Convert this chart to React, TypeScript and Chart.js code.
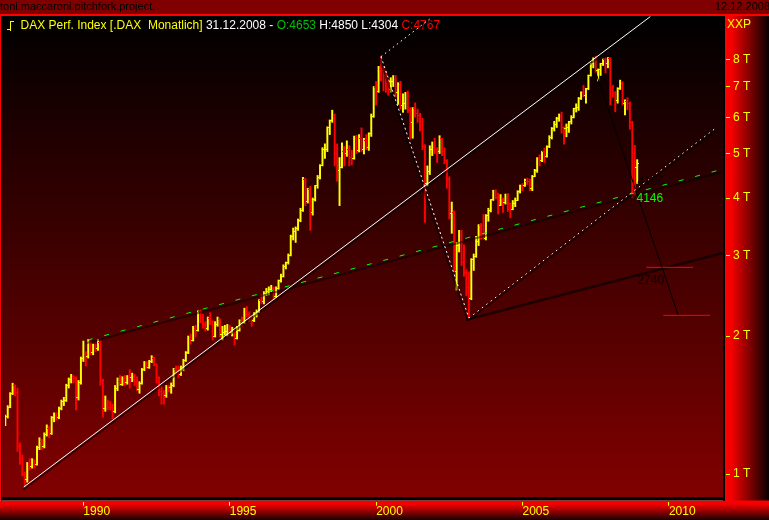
import React, { useEffect, useRef } from "react";
import { Chart, registerables } from "chart.js";

Chart.register(...registerables);

// Month index counted from January 1987 (0 = Jan 1987). First bar: May 1987.
const FIRST_MONTH = 4;

// Monthly OHLC of the DAX, May 1987 .. Dec 2008 (one row per year)
const opens = [
  1290, 1335, 1400, 1500, 1560, 1505, 1150, 1080,
  1000, 975, 1050, 1040, 1065, 1050, 1140, 1180, 1150, 1220, 1260, 1225,
  1328, 1340, 1330, 1390, 1440, 1450, 1560, 1610, 1630, 1615, 1470, 1580,
  1790, 1810, 1800, 1930, 1840, 1890, 1880, 1940, 1600, 1390, 1440, 1400,
  1398, 1370, 1540, 1590, 1570, 1620, 1580, 1630, 1620, 1630, 1590, 1530,
  1578, 1690, 1730, 1710, 1760, 1790, 1730, 1620, 1510, 1500, 1480, 1550,
  1545, 1560, 1690, 1680, 1650, 1690, 1770, 1840, 1990, 1960, 2080, 2060,
  2267, 2200, 2120, 2080, 2180, 2150, 2000, 2120, 2170, 2020, 2040, 2050,
  2107, 2040, 2050, 1980, 2060, 2150, 2140, 2270, 2230, 2170, 2160, 2230,
  2254, 2390, 2380, 2480, 2500, 2530, 2540, 2440, 2540, 2640, 2700, 2840,
  2889, 3000, 3300, 3380, 3440, 3570, 3760, 4380, 3930, 4170, 3710, 3970,
  4250, 4440, 4710, 5100, 5110, 5690, 5900, 5950, 5000, 4600, 4670, 5050,
  5002, 5100, 4910, 4880, 5390, 5080, 5380, 5100, 5350, 5150, 5520, 6030,
  6958, 6840, 7640, 7600, 7410, 7110, 6900, 7190, 7270, 6800, 7080, 6370,
  6434, 6790, 6210, 5830, 6260, 6120, 6060, 5860, 5190, 4310, 4560, 5100,
  5160, 5110, 5040, 5400, 5040, 4820, 4380, 3700, 3710, 2770, 3150, 3320,
  2893, 2750, 2550, 2420, 2940, 2980, 3220, 3490, 3480, 3260, 3660, 3750,
  3965, 4060, 4020, 3860, 3985, 3920, 4050, 3900, 3785, 3890, 3960, 4130,
  4256, 4250, 4350, 4340, 4185, 4460, 4590, 4890, 4830, 5045, 4930, 5190,
  5408, 5670, 5800, 5970, 6010, 5690, 5680, 5700, 5860, 6000, 6270, 6310,
  6597, 6790, 6710, 6920, 7410, 7880, 8010, 7580, 7640, 7860, 8020, 7870,
  8067, 6850, 6750, 6530, 6950, 7100, 6420, 6480, 6420, 5830, 4990, 4653,
];
const highs = [
  1345, 1410, 1505, 1578, 1565, 1540, 1170, 1100,
  1010, 1060, 1080, 1080, 1075, 1150, 1200, 1190, 1230, 1280, 1270, 1335,
  1360, 1360, 1400, 1450, 1470, 1570, 1620, 1650, 1640, 1630, 1600, 1800,
  1950, 1850, 1966, 1950, 1920, 1920, 1966, 1950, 1610, 1480, 1450, 1440,
  1420, 1560, 1620, 1640, 1630, 1640, 1640, 1690, 1660, 1650, 1630, 1590,
  1700, 1760, 1760, 1770, 1812, 1800, 1740, 1630, 1560, 1520, 1560, 1560,
  1580, 1700, 1720, 1720, 1720, 1780, 1850, 2000, 2020, 2100, 2110, 2270,
  2280, 2230, 2150, 2200, 2250, 2160, 2150, 2200, 2180, 2100, 2110, 2120,
  2110, 2090, 2060, 2100, 2170, 2200, 2300, 2320, 2260, 2200, 2250, 2280,
  2400, 2460, 2500, 2540, 2560, 2580, 2560, 2560, 2650, 2730, 2860, 2900,
  3020, 3320, 3440, 3460, 3600, 3800, 4438, 4420, 4200, 4240, 4000, 4260,
  4480, 4730, 5150, 5250, 5720, 5920, 6217, 6100, 5250, 4900, 5280, 5180,
  5330, 5200, 5080, 5460, 5480, 5500, 5690, 5400, 5500, 5550, 6100, 7000,
  7180, 7750, 8136, 7750, 7560, 7250, 7320, 7400, 7400, 7140, 7190, 6750,
  6800, 6850, 6300, 6300, 6450, 6250, 6120, 5970, 5230, 4700, 5200, 5300,
  5400, 5150, 5470, 5400, 5150, 4850, 4450, 3920, 3750, 3200, 3400, 3400,
  3160, 2790, 2760, 2950, 3020, 3300, 3500, 3520, 3680, 3680, 3800, 3970,
  4160, 4170, 4100, 4070, 4000, 4080, 4090, 3900, 3950, 4000, 4150, 4270,
  4300, 4400, 4420, 4400, 4480, 4620, 4900, 4970, 5060, 5140, 5200, 5470,
  5700, 5880, 6000, 6100, 6160, 5720, 5800, 5880, 6050, 6280, 6420, 6630,
  6820, 7040, 6940, 7420, 7880, 8090, 8151, 7650, 7870, 8040, 8080, 8100,
  8100, 7050, 6830, 6960, 7230, 7170, 6550, 6620, 6480, 5880, 5210, 4850,
];
const lows = [
  1275, 1325, 1395, 1490, 1480, 1120, 1050, 990,
  936, 960, 1020, 1030, 1030, 1045, 1130, 1130, 1140, 1210, 1200, 1220,
  1300, 1310, 1320, 1380, 1410, 1440, 1540, 1580, 1580, 1380, 1450, 1570,
  1760, 1720, 1790, 1820, 1820, 1850, 1860, 1560, 1330, 1370, 1380, 1380,
  1320, 1360, 1520, 1560, 1560, 1560, 1570, 1540, 1590, 1560, 1520, 1500,
  1570, 1680, 1700, 1700, 1750, 1720, 1580, 1480, 1420, 1420, 1470, 1510,
  1500, 1550, 1650, 1620, 1640, 1680, 1760, 1830, 1920, 1950, 1990, 2050,
  2140, 2080, 2050, 2060, 2120, 1960, 1990, 2100, 1990, 1960, 2010, 2000,
  2010, 2000, 1910, 1970, 2050, 2100, 2130, 2200, 2150, 2100, 2150, 2200,
  2250, 2350, 2350, 2450, 2460, 2500, 2400, 2430, 2530, 2620, 2690, 2800,
  2870, 2990, 3240, 3200, 3400, 3550, 3740, 3850, 3900, 3400, 3670, 3940,
  4200, 4400, 4700, 4880, 5050, 5500, 5850, 4700, 4350, 3850, 4650, 4700,
  4930, 4700, 4720, 4860, 5000, 5040, 5050, 4990, 5100, 5080, 5450, 6000,
  6380, 6800, 7200, 6850, 6800, 6700, 6800, 7000, 6650, 6400, 6250, 6150,
  6250, 6140, 5370, 5400, 6000, 5850, 5600, 5100, 3540, 4250, 4500, 4950,
  5000, 4780, 5000, 4950, 4750, 4200, 3600, 3350, 2770, 2519, 3050, 2850,
  2700, 2450, 2189, 2400, 2780, 2970, 3150, 3250, 3250, 3240, 3560, 3730,
  3950, 3980, 3690, 3850, 3720, 3880, 3740, 3620, 3770, 3830, 3950, 4100,
  4150, 4240, 4280, 4150, 4150, 4450, 4550, 4700, 4800, 4780, 4910, 5150,
  5380, 5600, 5700, 5880, 5540, 5240, 5440, 5560, 5800, 5980, 6160, 6210,
  6560, 6650, 6440, 6890, 7380, 7690, 7500, 7200, 7400, 7780, 7500, 7690,
  6384, 6640, 6167, 6440, 6900, 6380, 6070, 6230, 5650, 4014, 4060, 4304,
];
const closes = [
  1335, 1400, 1500, 1560, 1505, 1150, 1080, 1000,
  975, 1050, 1040, 1065, 1050, 1140, 1180, 1150, 1220, 1260, 1225, 1328,
  1340, 1330, 1390, 1440, 1450, 1560, 1610, 1630, 1615, 1470, 1580, 1790,
  1810, 1800, 1930, 1840, 1890, 1880, 1940, 1600, 1390, 1440, 1400, 1398,
  1370, 1540, 1590, 1570, 1620, 1580, 1630, 1620, 1630, 1590, 1530, 1578,
  1690, 1730, 1710, 1760, 1790, 1730, 1620, 1510, 1500, 1480, 1550, 1545,
  1560, 1690, 1680, 1650, 1690, 1770, 1840, 1990, 1960, 2080, 2060, 2267,
  2200, 2120, 2080, 2180, 2150, 2000, 2120, 2170, 2020, 2040, 2050, 2107,
  2040, 2050, 1980, 2060, 2150, 2140, 2270, 2230, 2170, 2160, 2230, 2254,
  2390, 2380, 2480, 2500, 2530, 2540, 2440, 2540, 2640, 2700, 2840, 2889,
  3000, 3300, 3380, 3440, 3570, 3760, 4380, 3930, 4170, 3710, 3970, 4250,
  4440, 4710, 5100, 5110, 5690, 5900, 5950, 5000, 4600, 4670, 5050, 5002,
  5100, 4910, 4880, 5390, 5080, 5380, 5100, 5350, 5150, 5520, 6030, 6958,
  6840, 7640, 7600, 7410, 7110, 6900, 7190, 7270, 6800, 7080, 6370, 6434,
  6790, 6210, 5830, 6260, 6120, 6060, 5860, 5190, 4310, 4560, 5100, 5160,
  5110, 5040, 5400, 5040, 4820, 4380, 3700, 3710, 2770, 3150, 3320, 2893,
  2750, 2550, 2420, 2940, 2980, 3220, 3490, 3480, 3260, 3660, 3750, 3965,
  4060, 4020, 3860, 3985, 3920, 4050, 3900, 3785, 3890, 3960, 4130, 4256,
  4250, 4350, 4340, 4185, 4460, 4590, 4890, 4830, 5045, 4930, 5190, 5408,
  5670, 5800, 5970, 6010, 5690, 5680, 5700, 5860, 6000, 6270, 6310, 6597,
  6790, 6710, 6920, 7410, 7880, 8010, 7580, 7640, 7860, 8020, 7870, 8067,
  6850, 6750, 6530, 6950, 7100, 6420, 6480, 6420, 5830, 4990, 4670, 4767,
];

// Axis ticks
const yTickValues = [1000, 2000, 3000, 4000, 5000, 6000, 7000, 8000];
const yTickLabels = ["1 T", "2 T", "3 T", "4 T", "5 T", "6 T", "7 T", "8 T"];
const xTickMonths = [36, 96, 156, 216, 276];
const xTickLabels = ["1990", "1995", "2000", "2005", "2010"];
const X_MIN = 3.88;
const X_MAX = 298.17;
const Y_MIN = 891;
const Y_MAX = 9978;

// Drawn lines: [month, value] end points
const upTrendLine = [[11.6, 937], [268.4, 9950]];
const greenDashLine = [[37.8, 1960], [298.2, 4627]];
const darkMedianLine = [[193, 2170], [298.2, 3034]];
const whiteDashLine = [[158, 8136], [194, 2189]];
const dottedFromPeak = [[158, 8136], [179, 9928]];
const dottedFromLow = [[194, 2189], [295.3, 5690]];
const blackDownLine = [[246, 7520], [279.8, 2222]];
const redLevel1 = [[266.7, 2824], [285.9, 2824]];
const redLevel2 = [[273.7, 2219], [292.9, 2219]];

// Annotation texts
const annotTexts = ["4196", "4146", "2740"];
const annotMonths = [263.1, 262.7, 263.1];
const annotValues = [4334, 3980, 2636];
const annotColors = ["#150000", "#00ff00", "#150000"];

const titleParts: [string, string][] = [
  ["DAX Perf. Index [.DAX  Monatlich]", "#ffff00"],
  [" 31.12.2008 - ", "#ffffff"],
  ["O:4653", "#00c000"],
  [" H:4850 L:4304 ", "#ffffff"],
  ["C:4767", "#ff0000"],
];

const YELLOW = "#ffff00";
const RED = "#ff0000";
const FONT = '"Liberation Sans", Arial, sans-serif';

function pts(p: number[][]) {
  return p.map(([x, y]) => ({ x, y }));
}

export default function App() {
  const ref = useRef<HTMLCanvasElement>(null);

  useEffect(() => {
    document.body.style.margin = "0";
    const canvas = ref.current!;

    const tickImg = (color: string, left: boolean) => {
      const c = document.createElement("canvas");
      c.width = 4;
      c.height = 1;
      const g = c.getContext("2d")!;
      g.fillStyle = color;
      g.fillRect(left ? 0 : 2, 0, 2, 1);
      return c;
    };
    const openUp = tickImg(YELLOW, true);
    const openDn = tickImg(RED, true);
    const closeUp = tickImg(YELLOW, false);
    const closeDn = tickImg(RED, false);

    const months = closes.map((_, i) => FIRST_MONTH + i);
    const isUp = closes.map((c, i) => c >= opens[i]);
    const barColors = isUp.map((u) => (u ? YELLOW : RED));

    const lineDs = (p: number[][], color: string, width: number, dash: number[], order = 0) => ({
      type: "line",
      data: pts(p),
      borderColor: color,
      borderWidth: width,
      borderDash: dash,
      pointRadius: 0,
      fill: false,
      tension: 0,
      clip: 0,
      order,
    });
    const shadowDs = (p: number[][]) => ({
      ...lineDs(p, "rgba(0,0,0,0.5)", 2, [], 1),
      shadow: true,
    });

    const bgPlugin = {
      id: "bg",
      beforeDraw(chart: any) {
        const { ctx, width, height, chartArea: a } = chart;
        ctx.save();
        ctx.fillStyle = "#800000";
        ctx.fillRect(0, 0, width, 14);
        ctx.fillStyle = "#ff0000";
        ctx.fillRect(0, 14, width, 2);
        const g = ctx.createLinearGradient(0, a.top, 0, a.bottom);
        g.addColorStop(0, "#000000");
        g.addColorStop(1, "#820000");
        ctx.fillStyle = g;
        ctx.fillRect(0, a.top, a.right, a.bottom - a.top);
        const gr = ctx.createLinearGradient(a.right + 2, 0, width, 0);
        gr.addColorStop(0, "#ff0000");
        gr.addColorStop(0.15, "#f20000");
        gr.addColorStop(1, "#080000");
        ctx.fillStyle = gr;
        ctx.fillRect(a.right, a.top, width - a.right, a.bottom + 4 - a.top);
        const gb = ctx.createLinearGradient(0, a.bottom + 3.5, 0, height);
        gb.addColorStop(0, "#ff0000");
        gb.addColorStop(0.2, "#f00000");
        gb.addColorStop(1, "#1a0000");
        ctx.fillStyle = gb;
        ctx.fillRect(0, a.bottom + 3.5, width, height - a.bottom - 3.5);
        ctx.fillStyle = "#000000";
        ctx.fillRect(1, a.top, 1, a.bottom - a.top + 3.5);
        ctx.fillRect(1, a.bottom, a.right + 1, 3.5);
        ctx.fillRect(a.right, a.top, 2, a.bottom - a.top + 3.5);
        ctx.fillStyle = "#ff0000";
        ctx.fillRect(0, a.top, 1, a.bottom - a.top + 3.5);
        ctx.font = `11px ${FONT}`;
        ctx.textBaseline = "middle";
        ctx.fillStyle = "#000000";
        ctx.textAlign = "left";
        ctx.fillText("toni.maccaroni.pitchfork.project.", 0, 7);
        ctx.textAlign = "right";
        ctx.fillText("12.12.2008", width + 1, 7);
        ctx.textAlign = "left";
        ctx.font = `12px ${FONT}`;
        ctx.fillStyle = YELLOW;
        ctx.fillText("XXP", 727, 25);
        ctx.restore();
      },
      beforeDatasetsDraw(chart: any) {
        const { ctx } = chart;
        ctx.save();
        ctx.strokeStyle = YELLOW;
        ctx.lineWidth = 1;
        ctx.beginPath();
        ctx.moveTo(10.5, 21);
        ctx.lineTo(10.5, 31);
        ctx.moveTo(7, 29.5);
        ctx.lineTo(10.5, 29.5);
        ctx.moveTo(10.5, 21.5);
        ctx.lineTo(14, 21.5);
        ctx.stroke();
        ctx.font = `12px ${FONT}`;
        ctx.textBaseline = "middle";
        ctx.textAlign = "left";
        let x = 20.5;
        for (const [t, c] of titleParts) {
          ctx.fillStyle = c;
          ctx.fillText(t, x, 26);
          x += ctx.measureText(t).width;
        }
        ctx.restore();
        ctx.imageSmoothingEnabled = false;
      },
      beforeDatasetDraw(chart: any, args: any) {
        const ds = chart.data.datasets[args.index];
        if (ds.shadow) {
          chart.ctx.save();
          chart.ctx.translate(-1, 3);
        }
      },
      afterDatasetDraw(chart: any, args: any) {
        const ds = chart.data.datasets[args.index];
        if (ds.shadow) chart.ctx.restore();
      },
      afterDatasetsDraw(chart: any) {
        const { ctx, scales } = chart;
        ctx.save();
        ctx.font = `12px ${FONT}`;
        ctx.textBaseline = "middle";
        ctx.textAlign = "left";
        annotTexts.forEach((t, i) => {
          ctx.fillStyle = annotColors[i];
          ctx.fillText(t, scales.x.getPixelForValue(annotMonths[i]), scales.y.getPixelForValue(annotValues[i]));
        });
        ctx.restore();
      },
    };

    const chart = new Chart(canvas, {
      type: "bar",
      data: {
        datasets: [
          {
            type: "bar",
            data: months.map((m, i) => ({ x: m, y: [lows[i], highs[i]] })),
            backgroundColor: barColors,
            borderWidth: 0,
            barThickness: 1.3,
            order: 4,
          } as any,
          {
            type: "scatter",
            data: months.map((m, i) => ({ x: m, y: opens[i] })),
            pointStyle: isUp.map((u) => (u ? openUp : openDn)),
            pointRadius: 2,
            order: 3,
          },
          {
            type: "scatter",
            data: months.map((m, i) => ({ x: m, y: closes[i] })),
            pointStyle: isUp.map((u) => (u ? closeUp : closeDn)),
            pointRadius: 2,
            order: 3,
          },
          shadowDs(upTrendLine),
          shadowDs(greenDashLine),
          shadowDs(whiteDashLine),
          shadowDs(dottedFromPeak),
          shadowDs(dottedFromLow),
          lineDs(darkMedianLine, "rgba(0,0,0,0.6)", 2.5, [], 1),
          lineDs(upTrendLine, "#ffffff", 1, []),
          lineDs(greenDashLine, "#00ff00", 1, [5, 12]),
          lineDs(whiteDashLine, "#ffffff", 1, [2, 3]),
          lineDs(dottedFromPeak, "#ffffff", 1, [1.5, 3.5]),
          lineDs(dottedFromLow, "#ffffff", 1, [1.5, 4]),
          lineDs(blackDownLine, "#000000", 1, []),
          lineDs(redLevel1, "#ff0000", 1, []),
          lineDs(redLevel2, "#ff0000", 1, []),
        ] as any,
      },
      options: {
        responsive: false,
        animation: false,
        devicePixelRatio: 1,
        events: [],
        layout: { padding: { left: 2, top: 16, right: 0, bottom: 0 } },
        plugins: { legend: { display: false }, tooltip: { enabled: false } },
        scales: {
          x: {
            type: "linear",
            min: X_MIN,
            max: X_MAX,
            bounds: "data",
            offset: false,
            afterFit: (s: any) => {
              s.height = 23;
            },
            afterBuildTicks: (s: any) => {
              s.ticks = xTickMonths.map((v) => ({ value: v }));
            },
            grid: {
              offset: false,
              drawOnChartArea: false,
              tickLength: 8.7,
              tickColor: YELLOW,
              tickWidth: 1,
              tickBorderDash: [0, 5, 3.7, 20],
            },
            border: { display: false },
            ticks: {
              align: "start",
              autoSkip: false,
              maxRotation: 0,
              padding: -1,
              color: YELLOW,
              font: { family: FONT, size: 12 },
              callback: (_v: any, i: number) => xTickLabels[i],
            },
          },
          y: {
            type: "logarithmic",
            position: "right",
            min: Y_MIN,
            max: Y_MAX,
            bounds: "data",
            afterFit: (s: any) => {
              s.width = 46;
            },
            afterBuildTicks: (s: any) => {
              s.ticks = yTickValues.map((v) => ({ value: v }));
            },
            grid: {
              drawOnChartArea: false,
              tickLength: 7,
              tickColor: YELLOW,
              tickWidth: 1,
              tickBorderDash: [0, 3, 4, 20],
            },
            border: { display: false },
            ticks: {
              padding: 3,
              color: YELLOW,
              font: { family: FONT, size: 12 },
              callback: (_v: any, i: number) => yTickLabels[i],
            },
          },
        },
      } as any,
      plugins: [bgPlugin],
    });
    return () => chart.destroy();
  }, []);

  return (
    <div style={{ position: "absolute", left: 0, top: 0, width: 769, height: 520 }}>
      <canvas ref={ref} width={769} height={520} style={{ display: "block", width: 769, height: 520 }} />
    </div>
  );
}
